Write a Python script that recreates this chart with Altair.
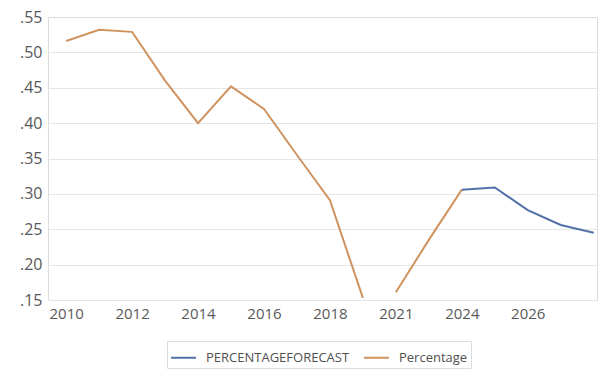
import json
import altair as alt
import pandas as pd

# x categories (position order on the axis)
years = ["2010", "2011", "2012", "2013", "2014", "2015", "2016", "2017", "2018", "2019",
         "2021", "2022", "2024", "2025", "2026", "2027", "2028"]
# labelled categories
label_years = ["2010", "2012", "2014", "2016", "2018", "2021", "2024", "2026"]

# actual series (None = no value)
percentage = [0.516, 0.532, 0.529, 0.460, 0.400, 0.452, 0.420, 0.355, 0.291, 0.153,
              0.161, 0.235, 0.306, None, None, None, None]
# line segment of the actual series (break between 2019 and 2021)
percentage_segment = [0, 0, 0, 0, 0, 0, 0, 0, 0, 0, 1, 1, 1, 1, 1, 1, 1]
# forecast series
forecast = [None] * 12 + [0.306, 0.309, 0.277, 0.256, 0.245]

series_names = ["PERCENTAGEFORECAST", "Percentage"]
series_colors = ["#5470a8", "#cf9360"]

rows = []
for i, y in enumerate(years):
    if percentage[i] is not None:
        rows.append({"idx": i, "year": y, "value": percentage[i],
                     "series": "Percentage", "seg": f"p{percentage_segment[i]}"})
    if forecast[i] is not None:
        rows.append({"idx": i, "year": y, "value": forecast[i],
                     "series": "PERCENTAGEFORECAST", "seg": "f"})
df = pd.DataFrame(rows)

label_idx = [years.index(y) for y in label_years]
label_expr = json.dumps(years) + "[datum.value]"

FONT = "Open Sans"

chart = alt.Chart(df).mark_line(strokeWidth=2).encode(
    x=alt.X("idx:Q",
            scale=alt.Scale(domain=[-0.55, 16.1], nice=False, zero=False),
            axis=alt.Axis(title=None, values=label_idx, labelExpr=label_expr,
                          grid=False, domain=False, ticks=False,
                          labelFontSize=15, labelColor="#595959", labelFont=FONT,
                          labelPadding=6, labelFlush=False, labelOverlap=False)),
    y=alt.Y("value:Q",
            scale=alt.Scale(domain=[0.15, 0.55], nice=False, zero=False),
            axis=alt.Axis(title=None, values=[0.15, 0.2, 0.25, 0.3, 0.35, 0.4, 0.45, 0.5, 0.55],
                          labelExpr="replace(format(datum.value, '.2f'), '0.', '.')",
                          domain=False, ticks=False,
                          gridColor={"condition": {"test": "datum.value > 0.54", "value": "transparent"},
                                     "value": "#e6e6e6"},
                          labelFontSize=16, labelColor="#595959", labelFont=FONT,
                          labelPadding=6)),
    color=alt.Color("series:N",
                    scale=alt.Scale(domain=series_names, range=series_colors),
                    legend=alt.Legend(title=None, orient="none", legendX=119, legendY=324,
                                      direction="horizontal", symbolType="stroke",
                                      symbolSize=625, symbolStrokeWidth=2,
                                      labelFontSize=13, labelFont=FONT, labelColor="#505050",
                                      strokeColor="#dcdcdc", padding=3, columnPadding=10,
                                      labelOffset=9)),
    detail="seg:N",
).properties(
    width=549,
    height=283,
    padding={"left": 48, "top": 17, "right": 3, "bottom": 72},
    autosize=alt.AutoSizeParams(type="none"),
).configure_view(stroke=None).configure(font=FONT, background="white")

chart.save("out.html", embed_options={"renderer": "svg", "actions": False})
